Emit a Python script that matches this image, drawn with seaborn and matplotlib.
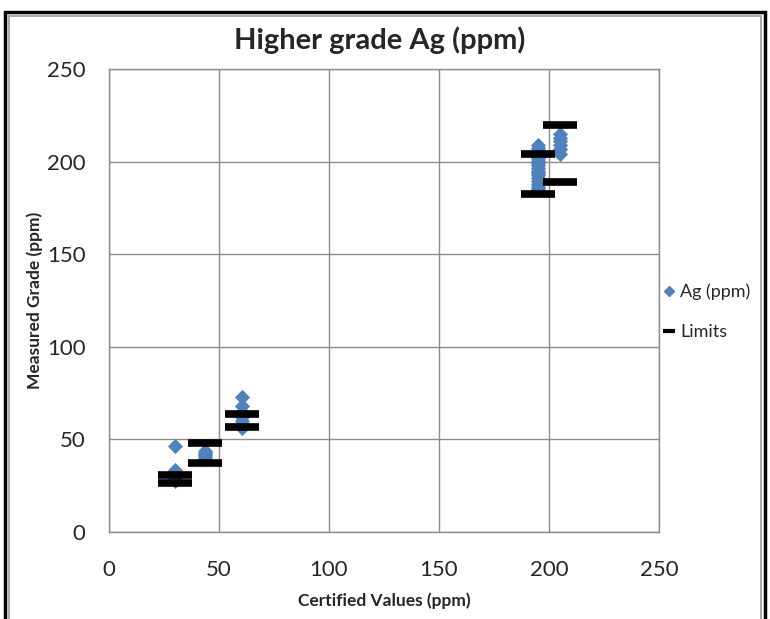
import matplotlib
matplotlib.use("Agg")
import matplotlib.pyplot as plt
from matplotlib.lines import Line2D
from matplotlib.patches import Rectangle
import seaborn as sns
import pandas as pd

# certified value of each standard
std_cert = [30, 43.5, 60.5, 195, 205]
# Ag (ppm) measured grades, one list per standard
ag_meas = [
    [46.5, 33.5, 31, 29, 27.5],
    [44, 42.5, 41.5, 40.5, 39.5],
    [73, 68, 65, 62, 60, 58, 56],
    [209, 207.5, 206, 204.5, 203, 202, 200.5, 199, 198, 196.5, 195,
     194, 192.5, 191, 189.5, 188, 186.5, 185],
    [215, 213, 211, 209, 207, 204],
]
# upper / lower limits per standard
lim_upper = [31, 48.3, 63.7, 204, 219.5]
lim_lower = [26.5, 37.2, 56.7, 182.5, 189]

df_ag = pd.DataFrame({
    "cert": [c for c, vals in zip(std_cert, ag_meas) for _ in vals],
    "meas": [v for vals in ag_meas for v in vals],
})
df_lim = pd.DataFrame({
    "cert": std_cert + std_cert,
    "meas": lim_upper + lim_lower,
})

sns.set_style("white")
plt.rcParams["font.family"] = ["Lato", "DejaVu Sans"]

fig = plt.figure(figsize=(7.7, 6.19), dpi=100)
ax = fig.add_axes([109 / 770, 1 - 532 / 619, 550 / 770, 463 / 619])

blue = "#4F81BD"
sns.scatterplot(data=df_ag, x="cert", y="meas", ax=ax, marker="D", s=60,
                color=blue, edgecolor=blue, linewidth=0, zorder=3, legend=False)
sns.scatterplot(data=df_lim, x="cert", y="meas", ax=ax, marker="_", s=620,
                color="black", linewidth=5.5, zorder=4, legend=False)

ax.set_xlim(0, 250)
ax.set_ylim(0, 250)
ax.set_xticks(range(0, 251, 50))
ax.set_yticks(range(0, 251, 50))
ax.grid(True, color="#8c8c8c", linewidth=1)
ax.set_axisbelow(True)
for sp in ax.spines.values():
    sp.set_color("#8c8c8c")
    sp.set_linewidth(1)
ax.tick_params(axis="both", labelsize=16, length=0)
ax.tick_params(axis="x", pad=20)
ax.tick_params(axis="y", pad=17)

ax.set_xlabel("Certified Values (ppm)", fontsize=12.5, fontweight="bold", labelpad=9)
ax.set_ylabel("Measured Grade (ppm)", fontsize=12.5, fontweight="bold", labelpad=3)
fig.text(380 / 770, 1 - 40 / 619, "Higher grade Ag (ppm)", fontsize=21,
         fontweight="bold", ha="center", va="center")

handles = [
    Line2D([], [], marker="D", color=blue, linestyle="none", markersize=5),
    Line2D([], [], marker="_", color="black", linestyle="none", markersize=9,
           markeredgewidth=3),
]
fig.legend(handles, ["Ag (ppm)", "Limits"], loc="center left",
           bbox_to_anchor=(664 / 770, 1 - 312 / 619), frameon=False,
           borderaxespad=0, borderpad=0,
           fontsize=13, handlelength=0.6, handletextpad=0.3, labelspacing=1.35)

# outer chart frame
fig.patches.append(Rectangle((5 / 770, -0.05), 760 / 770, 1 - 12 / 619 + 0.05,
                             transform=fig.transFigure, fill=False,
                             edgecolor="black", linewidth=2.5))
fig.patches.append(Rectangle((9 / 770, -0.05), 752 / 770, 1 - 16 / 619 + 0.05,
                             transform=fig.transFigure, fill=False,
                             edgecolor="#9a9a9a", linewidth=1.2))

fig.savefig("out.png", dpi=100)
